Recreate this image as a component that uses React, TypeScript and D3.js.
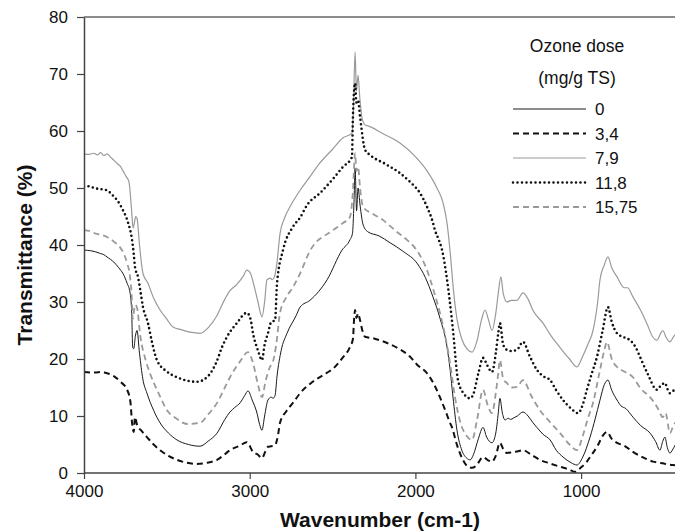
import React from 'react';
import * as d3 from 'd3';

// FTIR spectra, [wavenumber, transmittance %]
const dose0 = [
  [4000, 39.1], [3960, 39.0], [3930, 38.8], [3900, 38.5], [3880, 38.3], [3861, 37.9], [3820, 37.0],
  [3790, 36.0], [3765, 35.0], [3740, 33.3], [3722, 31.6], [3712, 28], [3706, 22], [3700, 21.8],
  [3690, 24], [3680, 25], [3665, 21], [3645, 16.5], [3620, 14], [3580, 11], [3541, 8.8], [3490, 7],
  [3439, 5.8], [3370, 5.0], [3300, 4.7], [3250, 5.6], [3197, 7], [3150, 9.4], [3119, 10.7],
  [3090, 11.5], [3058, 12.3], [3030, 13.6], [3010, 14.4], [2985, 12.8], [2956, 10.5], [2940, 8.5],
  [2926, 7.5], [2910, 10], [2890, 12.8], [2870, 13.3], [2859, 13.1], [2847, 13.6], [2835, 17],
  [2810, 21.5], [2775, 24.5], [2720, 27.6], [2696, 29.1], [2636, 30.3], [2533, 33.9], [2443, 39.1],
  [2395, 40.9], [2380, 42], [2370, 48], [2364, 53.5], [2355, 46], [2346, 50], [2334, 47],
  [2315, 43.5], [2286, 42.3], [2220, 41.6], [2153, 40.4], [2070, 38.8], [1990, 36.8], [1940, 34.3],
  [1894, 30.9], [1850, 27], [1809, 22.1], [1790, 18], [1773, 13.3], [1749, 7.5], [1720, 4],
  [1690, 2.6], [1670, 2.3], [1650, 3.2], [1620, 6], [1592, 8], [1570, 6.3], [1538, 5.3], [1515, 7],
  [1500, 10.5], [1490, 13.1], [1475, 10.5], [1459, 9.3], [1440, 9.6], [1425, 9.4], [1410, 9.6],
  [1385, 10], [1351, 10.7], [1320, 10], [1290, 8.8], [1267, 8], [1230, 6.8], [1187, 5.8],
  [1150, 4], [1109, 2.8], [1060, 1.8], [1025, 1.4], [990, 2.8], [946, 6.3], [915, 9.5],
  [886, 12.8], [860, 15.5], [838, 16.3], [815, 14.5], [783, 12.8], [760, 11.8], [730, 11.3],
  [687, 9.8], [640, 8.3], [584, 7], [550, 5.5], [524, 4], [508, 5.5], [494, 6.3], [480, 4.5],
  [464, 3.5], [440, 4.5], [420, 5.5], [400, 5.8],
];

const dose34 = [
  [4000, 17.7], [3950, 17.6], [3900, 17.7], [3860, 17.5], [3820, 17.0], [3780, 16.0], [3740, 14.6],
  [3720, 12.5], [3710, 8.8], [3700, 7.2], [3692, 9.8], [3680, 8.5], [3650, 7.3], [3620, 6.3],
  [3580, 5.0], [3541, 4], [3490, 3.0], [3439, 2.3], [3380, 1.8], [3318, 1.6], [3260, 1.8],
  [3197, 2.3], [3150, 3.3], [3119, 4], [3060, 4.8], [3017, 5.4], [2980, 3.7], [2950, 3.2],
  [2926, 2.6], [2905, 3.8], [2890, 4.6], [2870, 4.7], [2847, 4.9], [2830, 6.5], [2817, 8.8],
  [2780, 10.8], [2739, 12.3], [2696, 14], [2620, 16], [2533, 17.6], [2497, 18.3], [2440, 20.2],
  [2395, 22.1], [2377, 23.5], [2370, 27], [2364, 28.6], [2356, 27.2], [2346, 28], [2334, 26.8],
  [2320, 25], [2304, 23.9], [2250, 23.6], [2171, 22.8], [2100, 21.8], [2032, 20.4], [1990, 19],
  [1930, 17.5], [1890, 15.7], [1852, 13.3], [1820, 11], [1791, 8.8], [1779, 8], [1750, 5],
  [1713, 2.3], [1690, 1.3], [1658, 0.9], [1630, 1.4], [1592, 2.8], [1565, 2.3], [1538, 2],
  [1515, 3], [1490, 5.3], [1470, 4.2], [1448, 3.5], [1410, 3.7], [1380, 3.8], [1351, 4],
  [1300, 3.2], [1248, 2.3], [1190, 1.7], [1127, 1.1], [1070, 0.6], [1037, 0.2], [1000, 1],
  [970, 1.8], [946, 2.8], [900, 4.8], [870, 6.5], [844, 7.2], [815, 6], [783, 5.3], [740, 4.8],
  [687, 3.7], [630, 2.8], [566, 2], [530, 1.8], [506, 1.7], [480, 1.5], [446, 1.4], [400, 1.3],
];

const dose79 = [
  [4000, 56.0], [3970, 55.9], [3940, 56.1], [3920, 55.8], [3900, 56.2], [3880, 55.7], [3860, 56.0],
  [3843, 55.5], [3825, 55.0], [3800, 54.3], [3780, 53.8], [3765, 53], [3745, 52], [3728, 51],
  [3718, 48], [3710, 45], [3704, 43], [3695, 44], [3688, 45], [3680, 44.7], [3665, 40],
  [3644, 35], [3614, 33.3], [3580, 30.7], [3541, 28.6], [3500, 27], [3463, 25.6], [3420, 25.2],
  [3360, 24.7], [3300, 24.5], [3250, 25.5], [3200, 27.5], [3150, 30.5], [3119, 32], [3080, 33],
  [3040, 34.5], [3017, 35.6], [2995, 35], [2975, 33], [2950, 30], [2926, 27.4], [2910, 30],
  [2896, 33.9], [2875, 34.2], [2865, 33.9], [2850, 34.5], [2835, 37], [2817, 42], [2790, 44.7],
  [2757, 46.7], [2696, 49.6], [2636, 52], [2576, 54.4], [2500, 56.8], [2437, 58.8], [2383, 59.6],
  [2375, 63], [2364, 73.9], [2356, 67], [2346, 69.8], [2336, 66], [2320, 62], [2300, 61],
  [2286, 60.9], [2200, 59.6], [2093, 57.9], [2000, 55.5], [1930, 53], [1870, 50], [1833, 47.4],
  [1810, 44], [1791, 39], [1770, 32], [1749, 27], [1720, 23.5], [1690, 21.8], [1658, 21.2],
  [1630, 23], [1600, 27], [1580, 28.6], [1560, 27], [1538, 25], [1515, 28], [1500, 31.5],
  [1484, 34.4], [1470, 31.5], [1448, 30], [1420, 30.3], [1387, 30.3], [1351, 31.6], [1320, 30.5],
  [1290, 28.5], [1230, 26.3], [1180, 24], [1127, 22], [1070, 20], [1025, 18.6], [990, 20.5],
  [960, 22.5], [928, 25], [900, 30], [886, 33.9], [860, 36.5], [838, 37.9], [815, 36], [783, 34.4],
  [740, 32.5], [720, 32.5], [687, 30.9], [640, 28.5], [600, 26], [570, 24], [542, 23.3],
  [520, 24.5], [506, 25], [490, 24], [464, 23], [440, 24], [420, 24.5], [400, 25],
];

const dose118 = [
  [4000, 50.2], [3970, 50.3], [3940, 50.0], [3900, 49.8], [3861, 49.6], [3830, 48.8], [3801, 47.9],
  [3765, 46.1], [3734, 43.9], [3710, 40.9], [3700, 38.5], [3692, 36.1], [3674, 34.4], [3660, 32],
  [3644, 29.1], [3614, 26.3], [3590, 23], [3560, 19.8], [3500, 17.8], [3439, 16.8], [3380, 16.2],
  [3318, 16], [3258, 16.8], [3200, 19.5], [3167, 22.1], [3137, 23.9], [3080, 26.2], [3017, 28.1],
  [2995, 27], [2980, 24.5], [2950, 21.5], [2926, 19.8], [2910, 22.5], [2890, 24.5], [2870, 26.5],
  [2847, 26.8], [2835, 33.3], [2799, 39.1], [2739, 43.2], [2696, 44.8], [2654, 47], [2576, 49.1],
  [2500, 51.5], [2437, 53.7], [2383, 55.4], [2377, 62.5], [2364, 68.4], [2356, 65], [2346, 65.4],
  [2334, 62.5], [2304, 56.7], [2274, 55.8], [2180, 54.2], [2093, 52.6], [2030, 51], [1972, 49.1],
  [1930, 46.7], [1894, 43.9], [1882, 42.6], [1860, 41], [1839, 39.1], [1809, 33.9], [1790, 29.5],
  [1773, 25], [1743, 16.3], [1710, 14], [1670, 13.1], [1652, 13.7], [1620, 17.5], [1592, 20.2],
  [1565, 18.8], [1538, 17.7], [1515, 21], [1500, 24.5], [1490, 26.3], [1470, 22.5], [1448, 21.6],
  [1420, 21.4], [1387, 21.6], [1351, 23], [1310, 20.5], [1267, 18.1], [1230, 17], [1187, 16.3],
  [1150, 14.5], [1109, 12.8], [1060, 11.3], [1019, 10.5], [990, 12], [965, 14.6], [935, 17.5],
  [904, 20.4], [870, 25], [838, 29.1], [815, 26.5], [783, 24.5], [740, 23.8], [705, 23.3],
  [670, 22], [645, 20.4], [600, 17.5], [542, 14.6], [520, 15.3], [494, 15.8], [480, 14.8],
  [464, 14], [440, 14.5], [420, 14.8], [400, 14.5],
];

const dose1575 = [
  [4000, 42.6], [3960, 42.4], [3930, 42.0], [3900, 41.8], [3861, 41.4], [3820, 40.6], [3783, 39.6],
  [3760, 38.5], [3740, 36.8], [3722, 34.4], [3712, 31], [3706, 27], [3700, 28], [3692, 29.5],
  [3680, 29], [3660, 24], [3630, 20], [3602, 17.5], [3550, 14], [3499, 11], [3440, 9.5],
  [3378, 8.6], [3300, 8.8], [3250, 10.3], [3197, 12.3], [3150, 15], [3119, 16.8], [3060, 19.5],
  [3010, 21.2], [2980, 19.3], [2950, 15.5], [2926, 13.3], [2905, 16], [2878, 18.6], [2860, 19.5],
  [2840, 22.5], [2817, 28.1], [2780, 30.8], [2739, 32.6], [2696, 35], [2636, 39], [2497, 42.6],
  [2440, 43.8], [2395, 44.9], [2378, 49], [2364, 56.1], [2356, 53], [2346, 53.7], [2334, 50],
  [2316, 46.7], [2260, 45.5], [2196, 44.4], [2120, 42.5], [2051, 40.9], [1990, 39], [1930, 35.6],
  [1890, 32], [1852, 28.1], [1820, 24], [1791, 19.3], [1761, 13.3], [1730, 9], [1690, 6.5],
  [1658, 5.8], [1630, 9], [1592, 14.6], [1565, 12], [1538, 10.5], [1515, 14], [1500, 17.5],
  [1490, 19.8], [1470, 16.5], [1448, 15.8], [1420, 15], [1387, 15.1], [1351, 16.3], [1300, 13.5],
  [1248, 11], [1190, 9], [1127, 7], [1070, 5], [1025, 4], [990, 6.5], [960, 9.5], [928, 12.3],
  [890, 17.5], [860, 21.5], [844, 23], [815, 20], [783, 18.6], [740, 17.8], [687, 16.8],
  [640, 14.8], [584, 13.3], [540, 11.5], [506, 9.8], [490, 10.5], [464, 7], [440, 8.5],
  [420, 9], [400, 9],
];

const doseLabels = ['0', '3,4', '7,9', '11,8', '15,75'];
const xTicks = [4000, 3000, 2000, 1000];
const yTicks = [0, 10, 20, 30, 40, 50, 60, 70, 80];

const FONT = 'Liberation Sans, Arial, sans-serif';

const App = () => {
  const ref = React.useRef(null);

  React.useEffect(() => {
    document.body.style.margin = '0';
    const svgEl = ref.current;
    while (svgEl.firstChild) svgEl.removeChild(svgEl.firstChild);

    const width = 675;
    const height = 532;
    const left = 84;
    const top = 17;
    const bottom = 473;

    const x = d3.scaleLinear().domain([4000, 400]).range([left, left + 3600 * 0.1657]);
    const y = d3.scaleLinear().domain([0, 80]).range([bottom, top]);

    const svg = d3.select(svgEl)
      .attr('width', width)
      .attr('height', height)
      .style('display', 'block')
      .style('background', '#fff')
      .style('font-family', FONT);

    svg.append('clipPath').attr('id', 'plot-clip')
      .append('rect').attr('x', left).attr('y', 0).attr('width', width - left).attr('height', bottom);

    // series styles
    const styles = [
      { data: dose0, stroke: '#1a1a1a', width: 1, dash: null, cap: 'butt' },
      { data: dose34, stroke: '#111', width: 2, dash: '6,4', cap: 'butt' },
      { data: dose79, stroke: '#9a9a9a', width: 1.2, dash: null, cap: 'butt' },
      { data: dose118, stroke: '#111', width: 2.6, dash: '0,4.5', cap: 'round' },
      { data: dose1575, stroke: '#9a9a9a', width: 1.8, dash: '6,4', cap: 'butt' },
    ];

    const line = d3.line()
      .x((d) => x(d[0]))
      .y((d) => y(d[1]))
      .curve(d3.curveMonotoneX);

    const plot = svg.append('g').attr('clip-path', 'url(#plot-clip)');
    styles.forEach((s) => {
      plot.append('path')
        .attr('d', line(s.data))
        .attr('fill', 'none')
        .attr('stroke', s.stroke)
        .attr('stroke-width', s.width)
        .attr('stroke-dasharray', s.dash)
        .attr('stroke-linecap', s.cap)
        .attr('stroke-linejoin', 'round');
    });

    // axes
    const axisColor = '#444';
    svg.append('line')
      .attr('x1', left).attr('x2', width).attr('y1', top).attr('y2', top)
      .attr('stroke', '#666').attr('stroke-width', 1.5);

    const yAxis = svg.append('g')
      .attr('transform', `translate(${left},0)`)
      .call(d3.axisLeft(y).tickValues(yTicks).tickSize(7).tickPadding(9).tickSizeOuter(0));
    yAxis.select('.domain').attr('stroke', axisColor).attr('stroke-width', 1.5);
    yAxis.selectAll('.tick line').attr('stroke', axisColor).attr('stroke-width', 1.2);
    yAxis.selectAll('text').attr('font-size', 17).attr('fill', '#111').attr('font-family', FONT);

    const xAxis = svg.append('g')
      .attr('transform', `translate(0,${bottom})`)
      .call(d3.axisBottom(x).tickValues(xTicks).tickFormat(d3.format('d'))
        .tickSize(6).tickPadding(6).tickSizeOuter(0));
    xAxis.select('.domain').attr('stroke', axisColor).attr('stroke-width', 1.5)
      .attr('d', `M${left},0H${width}`);
    xAxis.selectAll('.tick line').attr('stroke', axisColor).attr('stroke-width', 1.2);
    xAxis.selectAll('text').attr('font-size', 17).attr('fill', '#111').attr('font-family', FONT);

    // axis titles
    svg.append('text')
      .attr('x', 380).attr('y', 527)
      .attr('text-anchor', 'middle')
      .attr('font-size', 21).attr('font-weight', 'bold').attr('fill', '#111')
      .text('Wavenumber (cm-1)');

    svg.append('text')
      .attr('transform', 'translate(32,255) rotate(-90)')
      .attr('text-anchor', 'middle')
      .attr('font-size', 21).attr('font-weight', 'bold').attr('fill', '#111')
      .text('Transmittance (%)');

    // legend
    const legend = svg.append('g');
    legend.append('text')
      .attr('x', 577).attr('y', 52).attr('text-anchor', 'middle')
      .attr('font-size', 17.5).attr('fill', '#111').text('Ozone dose');
    legend.append('text')
      .attr('x', 577).attr('y', 84).attr('text-anchor', 'middle')
      .attr('font-size', 17.5).attr('fill', '#111').text('(mg/g TS)');

    const rowY = d3.scalePoint().domain(doseLabels).range([109, 207]);
    styles.forEach((s, i) => {
      const yy = rowY(doseLabels[i]);
      legend.append('line')
        .attr('x1', 513).attr('x2', 586).attr('y1', yy).attr('y2', yy)
        .attr('stroke', s.stroke)
        .attr('stroke-width', s.width)
        .attr('stroke-dasharray', s.dash)
        .attr('stroke-linecap', s.cap);
      legend.append('text')
        .attr('x', 595).attr('y', yy).attr('dy', '0.36em')
        .attr('font-size', 17).attr('fill', '#111')
        .text(doseLabels[i]);
    });
  }, []);

  return <svg ref={ref} />;
};

export default App;
